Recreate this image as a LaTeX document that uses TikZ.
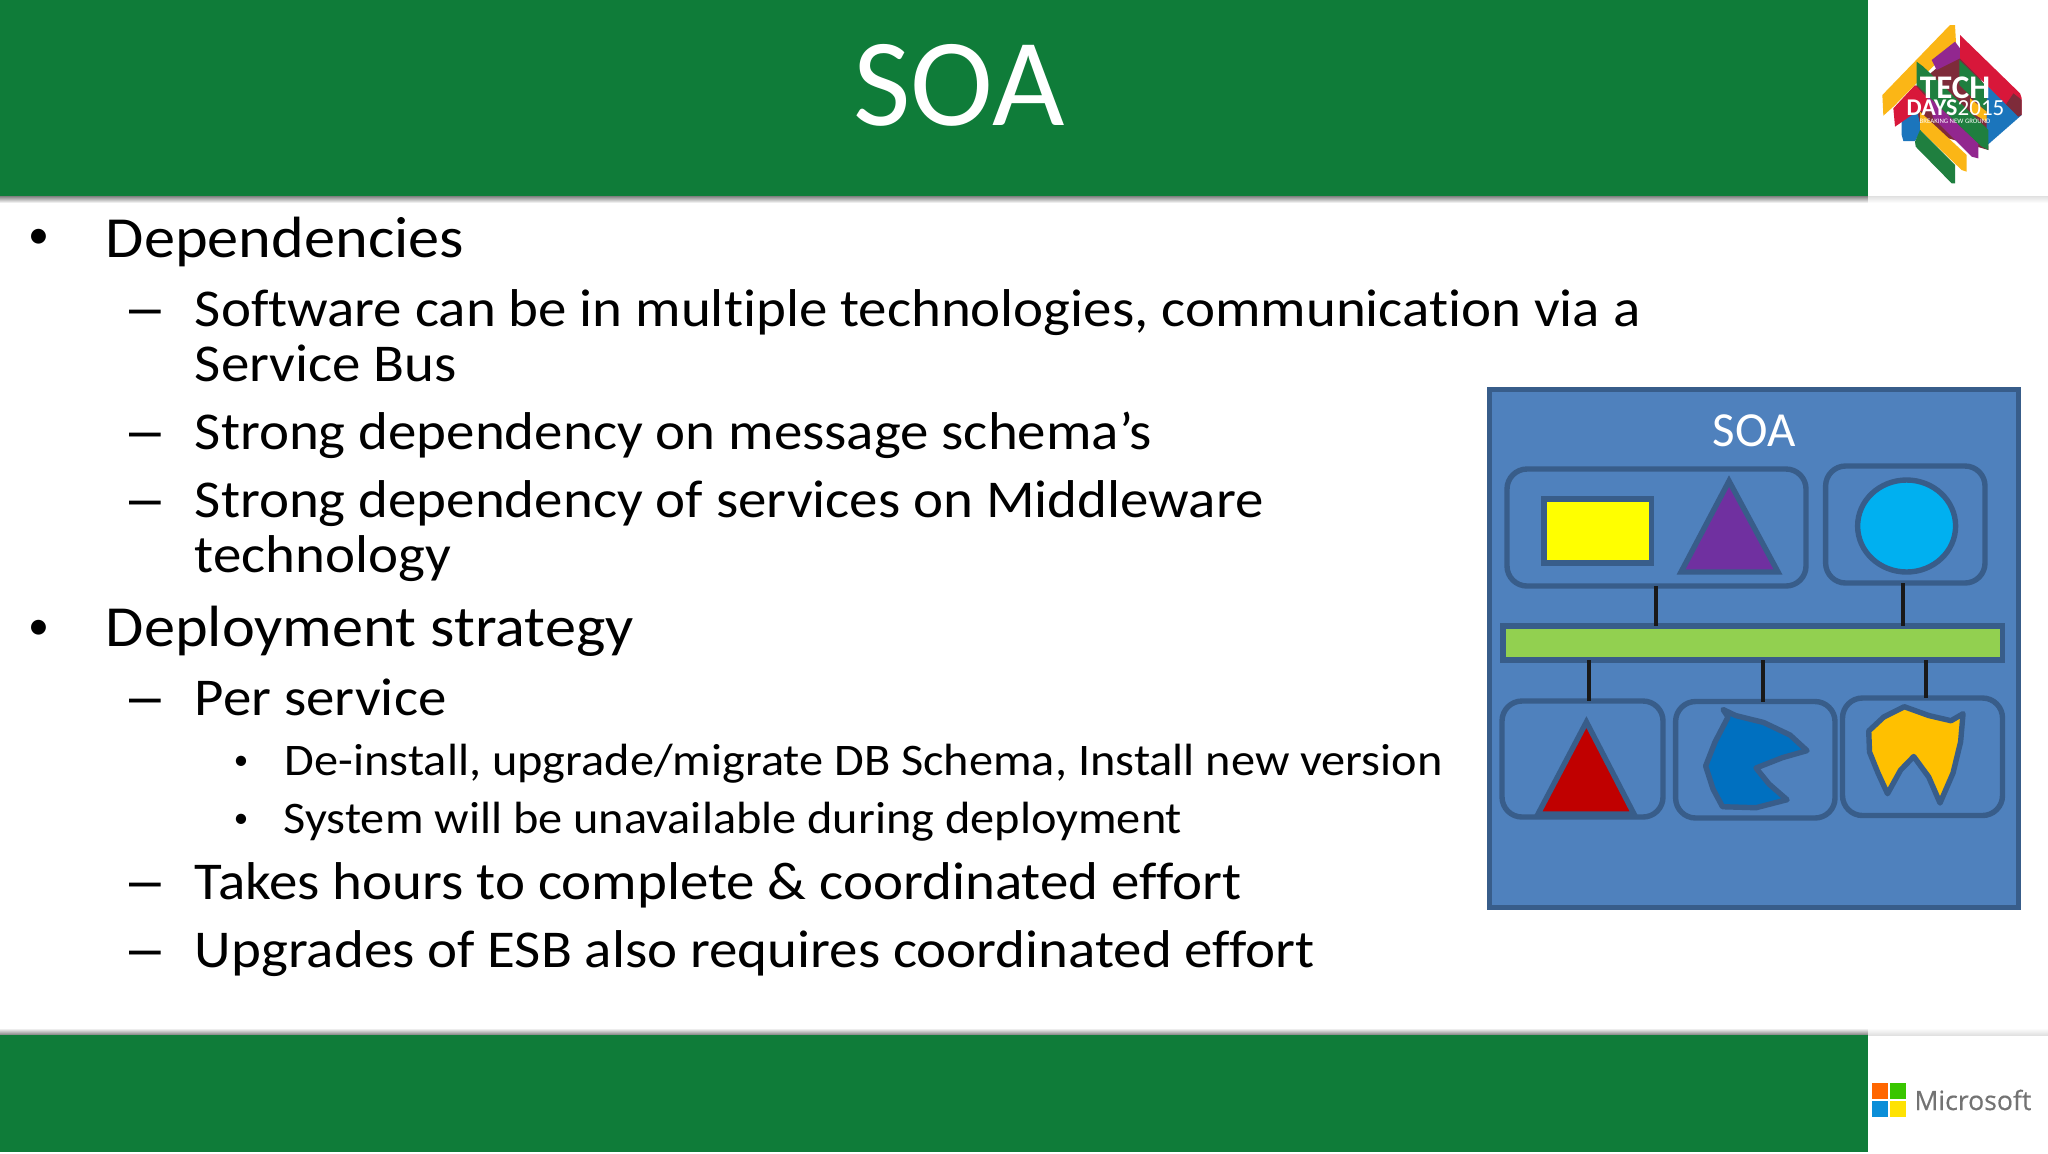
\documentclass[tikz,border=0pt]{standalone}
\usepackage{fontspec}
\setmainfont{Carlito}[Ligatures=NoCommon]
\newfontfamily\slidefont{Carlito}[Ligatures=NoCommon,FakeStretch=1.07]
\newfontfamily\dashfont{Liberation Sans}
\newfontfamily\msfont{Open Sans}[FakeBold=0.35]
\usepackage{tikz}
\usetikzlibrary{shapes}

\definecolor{bargreen}{HTML}{0F7C39}
\definecolor{panelblue}{HTML}{4F81BD}
\definecolor{edgeblue}{HTML}{385D8A}
\definecolor{busgreen}{HTML}{92D050}
\definecolor{purebox}{HTML}{FFFF00}
\definecolor{mspurple}{HTML}{7030A0}
\definecolor{skyblue}{HTML}{00B0F0}
\definecolor{darkred}{HTML}{C00000}
\definecolor{blobblue}{HTML}{0070C0}
\definecolor{blobgold}{HTML}{FFC000}
\definecolor{logored}{HTML}{D8173A}
\definecolor{logogold}{HTML}{FBB616}
\definecolor{logogreen}{HTML}{1F7F3F}
\definecolor{logoblue}{HTML}{1B75BC}
\definecolor{logoplum}{HTML}{92278F}
\definecolor{logodark}{HTML}{7E2B3A}

\tikzset{
    lvlone/.style={anchor=base west,font=\fontsize{29.1}{32}\slidefont,inner sep=0pt},
    lvltwo/.style={anchor=base west,font=\fontsize{26.6}{30}\slidefont,inner sep=0pt},
    lvlthree/.style={anchor=base west,font=\fontsize{22.58}{26}\slidefont,inner sep=0pt},
    bulletone/.style={anchor=base,font=\fontsize{21}{24}\selectfont,inner sep=0pt},
    bulletthree/.style={anchor=base,font=\fontsize{14.5}{16}\selectfont,inner sep=0pt},
    dashtwo/.style={anchor=base,font=\fontsize{28.5}{30}\dashfont,inner sep=0pt},
    panel/.style={draw=edgeblue,fill=panelblue,line width=2.7pt,inner sep=0pt,outer sep=0pt},
    groupbox/.style={draw=edgeblue,line width=2.7pt,rounded corners=10pt,inner sep=0pt,outer sep=0pt},
    shapeline/.style={draw=edgeblue,line width=2.7pt,line join=round},
    link/.style={draw=black!90,line width=1.9pt},
    mssquare/.style={minimum size=8pt,inner sep=0pt,outer sep=0pt}
}

\begin{document}
\begin{tikzpicture}[x=0.5pt,y=-0.5pt]
    \useasboundingbox (0,0) rectangle (2048,1153);
    \fill[white] (0,0) rectangle (2048,1153);

    % bars
    \shade[top color=black!50,bottom color=white] (0,196) rectangle (1868,203);
    \shade[top color=black!12,bottom color=white] (1868,196) rectangle (2048,203);
    \shade[top color=white,bottom color=black!50] (0,1028) rectangle (1868,1035);
    \shade[top color=white,bottom color=black!12] (1868,1028) rectangle (2048,1035);
    \node[fill=bargreen,minimum width=934pt,minimum height=98pt,inner sep=0pt,outer sep=0pt] (header) at (934,98) {};
    \node[fill=bargreen,minimum width=934pt,minimum height=58.5pt,inner sep=0pt,outer sep=0pt] (footer) at (934,1093.5) {};
    \node[text=white,font=\fontsize{62.5}{66}\selectfont,anchor=base,inner sep=0pt] (title) at (959,125) {SOA};

    % logo
    \begin{scope}[shift={(1870,15)},scale=1/3]
        \fill[logodark] (95,320) -- (140,210) -- (270,100) -- (350,220) -- (355,405) -- (150,345) -- cycle;
        \fill[logoblue] (95,320) -- (140,285) -- (155,345) -- (135,378) -- (100,378) -- (95,360) -- cycle;
        \fill[logoblue] (350,210) -- (410,265) -- (455,300) -- (350,392) -- cycle;
        \fill[logored] (70,280) -- (135,210) -- (200,280) -- (140,290) -- (75,335) -- cycle;
        \fill[logogold] (37,240) -- (240,30) -- (255,30) -- (258,85) -- (70,275) -- (40,302) -- cycle;
        \fill[logoplum] (185,135) -- (255,80) -- (270,100) -- (270,130) -- (200,165) -- cycle;
        \fill[logored] (270,60) -- (450,235) -- (455,250) -- (455,300) -- (410,270) -- (270,130) -- cycle;
        \fill[logodark] (408,268) -- (430,235) -- (455,255) -- (455,300) -- (445,305) -- cycle;
        \fill[logoplum] (170,240) -- (325,385) -- (325,430) -- (305,425) -- (190,310) -- cycle;
        \fill[logogreen] (140,140) -- (160,155) -- (355,345) -- (355,405) -- (335,395) -- (140,210) -- cycle;
        \fill[logogreen] (268,135) -- (350,215) -- (350,290) -- (268,210) -- cycle;
        \fill[logogold] (300,250) -- (350,290) -- (350,320) -- (300,290) -- cycle;
        \fill[logogold] (150,290) -- (290,420) -- (290,470) -- (275,465) -- (150,345) -- cycle;
        \fill[logogreen] (135,380) -- (150,345) -- (255,450) -- (255,505) -- (245,505) -- (137,395) -- cycle;
    \end{scope}
    \node[text=white,font=\fontsize{16.5}{18}\selectfont\bfseries,anchor=base,inner sep=0pt] (logotech) at (1955,98) {TECH};
    \node[text=white,font=\fontsize{12}{14}\selectfont\bfseries,anchor=base,inner sep=0pt] (logodays) at (1932,115) {DAYS};
    \node[text=white,font=\fontsize{11.5}{14}\selectfont,anchor=base,inner sep=0pt] (logoyear) at (1981,115) {2015};
    \node[text=white,font=\fontsize{3.4}{4}\selectfont,anchor=base,inner sep=0pt] (logotag) at (1955,123) {BREAKING NEW GROUND};

    % microsoft
    \node[mssquare,fill=orange!80!red] (msa) at (1880,1091) {};
    \node[mssquare,fill=green!55!olive] (msb) at (1898,1091) {};
    \node[mssquare,fill=cyan!75!blue] (msc) at (1880,1109) {};
    \node[mssquare,fill=yellow!85!orange] (msd) at (1898,1109) {};
    \node[text=black!55,font=\fontsize{13.3}{16}\msfont\selectfont,anchor=base west,inner sep=0pt] (mstext) at (1914,1110) {Microsoft};

    % text
    \node[bulletone] (b1) at (39,248) {•};
    \node[lvlone] (deps) at (105.5,257) {Dependencies};
    \node[dashtwo] (d1) at (145.5,326) {–};
    \node[lvltwo] (soft) at (194.5,326.5) {Software can be in multiple technologies, communication via a};
    \node[lvltwo] (soft2) at (194.5,381) {Service Bus};
    \node[dashtwo] (d2) at (145.5,449) {–};
    \node[lvltwo] (schema) at (194.5,449.5) {Strong dependency on message schema’s};
    \node[dashtwo] (d3) at (145.5,517) {–};
    \node[lvltwo] (middle) at (194.5,517.5) {Strong dependency of services on Middleware};
    \node[lvltwo] (middle2) at (194.5,572.5) {technology};
    \node[bulletone] (b2) at (39,639) {•};
    \node[lvlone] (deploy) at (105.5,646) {Deployment strategy};
    \node[dashtwo] (d4) at (145.5,715) {–};
    \node[lvltwo] (persvc) at (194.5,715.5) {Per service};
    \node[bulletthree] (s1) at (241,769) {•};
    \node[lvlthree] (install) at (284.5,775.5) {De-install, upgrade/migrate DB Schema, Install new version};
    \node[bulletthree] (s2) at (241,827) {•};
    \node[lvlthree] (unavail) at (283.5,833.5) {System will be unavailable during deployment};
    \node[dashtwo] (d5) at (145.5,899) {–};
    \node[lvltwo] (hours) at (194.5,899.5) {Takes hours to complete \& coordinated effort};
    \node[dashtwo] (d6) at (145.5,967) {–};
    \node[lvltwo] (esb) at (194.5,967.5) {Upgrades of ESB also requires coordinated effort};

    % soa panel
    \node[panel,minimum width=264.5pt,minimum height=259pt] (panel) at (1754,648.5) {};
    \node[text=white,font=\fontsize{24.5}{26}\selectfont,anchor=base,inner sep=0pt] (paneltitle) at (1754,446) {SOA};
    \node[groupbox,minimum width=149.5pt,minimum height=58.5pt] (groupa) at (1656.5,527.5) {};
    \node[groupbox,minimum width=79.7pt,minimum height=58.5pt] (groupb) at (1905.3,524.5) {};
    \node[groupbox,minimum width=80.5pt,minimum height=58pt] (groupc) at (1582.5,759) {};
    \node[groupbox,minimum width=79.7pt,minimum height=58.25pt] (groupd) at (1755.3,759.75) {};
    \node[groupbox,minimum width=80pt,minimum height=58.75pt] (groupe) at (1922.5,756.75) {};
    \node[draw=edgeblue,fill=purebox,line width=2.7pt,minimum width=53.8pt,minimum height=32pt,inner sep=0pt,outer sep=0pt] (rectbox) at (1597.8,531) {};
    \node[ellipse,draw=edgeblue,fill=skyblue,line width=2.7pt,minimum width=49pt,minimum height=46pt,inner sep=0pt,outer sep=0pt] (circ) at (1906.6,526) {};
    \node[draw=edgeblue,fill=busgreen,line width=2.7pt,minimum width=249.8pt,minimum height=17pt,inner sep=0pt,outer sep=0pt] (bus) at (1752.8,643) {};

    \path[shapeline,line join=miter,fill=mspurple] (1729,481) -- (1778,572) -- (1681,572) -- cycle;
    \path[shapeline,line join=miter,fill=darkred] (1586.4,722) -- (1634,814) -- (1538,814) -- cycle;
    \path[shapeline,fill=blobblue] (1723,709.5) -- (1735.6,715.5) -- (1763.7,722.5) -- (1790,735) -- (1807,750.6) -- (1782.5,757.6) -- (1756,768) -- (1769,784) -- (1787,799.7) -- (1756,807.7) -- (1722.5,806.7) -- (1713,789) -- (1705.6,766) -- (1715,742) -- (1728,717) -- cycle;
    \path[shapeline,fill=blobgold] (1868.7,731) -- (1883.7,717) -- (1904.3,706.7) -- (1928.7,715.5) -- (1951,720.7) -- (1963,713.7) -- (1960.6,741.8) -- (1953,773) -- (1940,803) -- (1928.7,777) -- (1913.7,756.5) -- (1900.6,770) -- (1887.5,793.7) -- (1878,773) -- (1869.5,752) -- cycle;

    \coordinate (tapa) at (1656,0);
    \coordinate (tapb) at (1903,0);
    \coordinate (tapc) at (1589,0);
    \coordinate (tapd) at (1763,0);
    \coordinate (tape) at (1926,0);
    \draw[link] (tapa |- groupa.south) -- (tapa |- bus.north);
    \draw[link] (tapb |- groupb.south) -- (tapb |- bus.north);
    \draw[link] (tapc |- bus.south) -- (tapc |- groupc.north);
    \draw[link] (tapd |- bus.south) -- (tapd |- groupd.north);
    \draw[link] (tape |- bus.south) -- (tape |- groupe.north);
\end{tikzpicture}
\end{document}
